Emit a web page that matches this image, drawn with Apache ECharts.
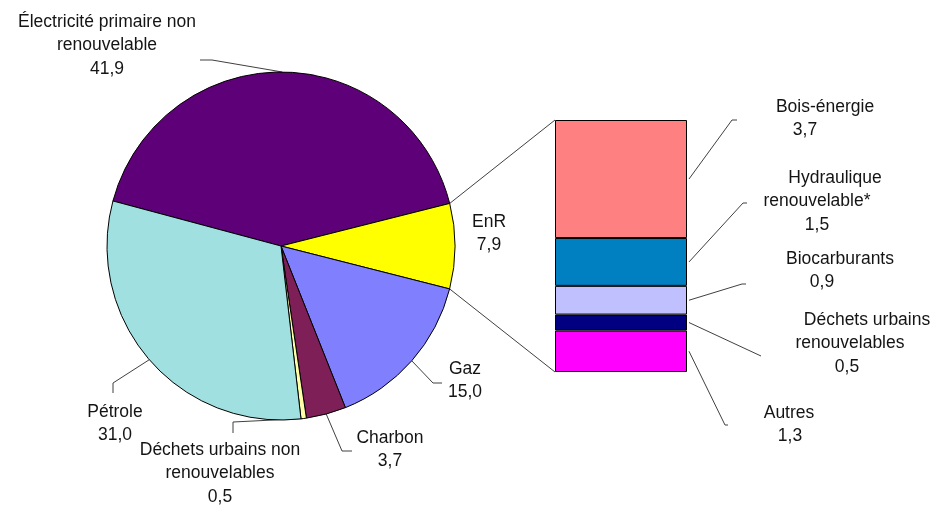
<!DOCTYPE html>
<html><head><meta charset="utf-8">
<script src="https://cdn.jsdelivr.net/npm/echarts@6/dist/echarts.min.js"></script>
<style>html,body{margin:0;padding:0;background:#fff}#c{width:937px;height:505px}</style>
</head><body><div id="c"></div>
<script>
// ---- data ----
const pieCategories = ['Électricité primaire non renouvelable', 'EnR', 'Gaz', 'Charbon', 'Déchets urbains non renouvelables', 'Pétrole'];
const pieValues = [41.9, 7.9, 15.0, 3.7, 0.5, 31.0];
const pieLabelText = [['Électricité primaire non', 'renouvelable'], ['EnR'], ['Gaz'], ['Charbon'], ['Déchets urbains non', 'renouvelables'], ['Pétrole']];
const enrCategories = ['Bois-énergie', 'Hydraulique renouvelable*', 'Biocarburants', 'Déchets urbains renouvelables', 'Autres'];
const enrValues = [3.7, 1.5, 0.9, 0.5, 1.3];
const enrLabelText = [['Bois-énergie'], ['Hydraulique', 'renouvelable*'], ['Biocarburants'], ['Déchets urbains', 'renouvelables'], ['Autres']];

// ---- styles ----
const pieColors = ['#5E0078', '#FFFF00', '#8080FF', '#7E1F58', '#FFFFA8', '#A0E0E0'];
const enrColors = ['#FF8080', '#0080C0', '#C0C0FF', '#000080', '#FF00FF'];
const FONT = "'Liberation Sans', Arial, sans-serif";
const TXT = '#141414';
const LINE = '#404040';
const FS = 17.5, LH = 23.5;

// label placement (block centre x, top y, per-line x offsets, leader line bends)
const pieLabelPos = [
  { x: 107, y: 10, line: [[212, 60], [200, 60]] },
  { x: 489, y: 210, line: null },
  { x: 465, y: 357, line: [[433, 383], [442, 383]] },
  { x: 390, y: 426, line: [[342, 451], [352, 451]] },
  { x: 220, y: 438, line: [[233, 422], [233, 433]] },
  { x: 115, y: 400, line: [[113, 383], [113, 393]] }
];
const enrLabelPos = [
  { x: 825, y: 95, off: [0, -20], line: [[732, 120], [737, 120]] },
  { x: 835, y: 166, off: [0, -18, -18], line: [[743, 203], [747, 203]] },
  { x: 840, y: 247, off: [0, -18], line: [[742, 284], [746, 284]] },
  { x: 867, y: 308, off: [0, -17, -20], line: [[761, 356]] },
  { x: 789, y: 401, off: [0, 1], line: [[725, 425], [728, 425]] }
];

const fmt = v => v.toFixed(1).replace('.', ',');
const rich = {};
function key(o) {
  const k = 'o' + (o < 0 ? 'm' : 'p') + Math.abs(o);
  if (!rich[k]) rich[k] = {
    fontSize: FS, lineHeight: LH, color: TXT, fontFamily: FONT,
    padding: [0, o < 0 ? -2 * o : 0, 0, o > 0 ? 2 * o : 0]
  };
  return k;
}
function richLabel(lines, offs) {
  return lines.map((t, i) => '{' + key(offs ? (offs[i] || 0) : 0) + '|' + t + '}').join('\n');
}
const pieLabelStr = pieLabelText.map((l, i) => richLabel(l.concat([fmt(pieValues[i])])));
const enrLabelStr = enrLabelText.map((l, i) => richLabel(l.concat([fmt(enrValues[i])]), enrLabelPos[i].off));

const chart = echarts.init(document.getElementById('c'));

const pieData = pieCategories.map((n, i) => {
  const d = { name: n, value: pieValues[i], itemStyle: { color: pieColors[i] } };
  if (!pieLabelPos[i].line) d.labelLine = { show: false };
  return d;
});

const barSeries = [];
for (let i = enrCategories.length - 1; i >= 0; i--) {
  const idx = i;
  barSeries.push({
    type: 'bar', name: enrCategories[idx], stack: 'enr', barWidth: '100%',
    data: [enrValues[idx]],
    itemStyle: { color: enrColors[idx], borderColor: '#000', borderWidth: 1 },
    label: {
      show: true, position: 'right', fontSize: FS, lineHeight: LH, color: TXT, fontFamily: FONT,
      formatter: () => enrLabelStr[idx],
      rich: rich
    },
    labelLayout: () => ({ x: enrLabelPos[idx].x, y: enrLabelPos[idx].y, align: 'center', verticalAlign: 'top' }),
    silent: true, animation: false
  });
}

chart.setOption({
  animation: false,
  backgroundColor: '#fff',
  textStyle: { fontFamily: FONT },
  grid: { left: 555, top: 120, width: 132, height: 252 },
  xAxis: { type: 'category', data: ['EnR'], show: false },
  yAxis: { type: 'value', min: 0, max: pieValues[1], show: false },
  series: [{
    type: 'pie', center: [281, 246], radius: 174, startAngle: 165, clockwise: true,
    avoidLabelOverlap: false, silent: true,
    data: pieData,
    itemStyle: { borderColor: '#000', borderWidth: 1 },
    label: {
      show: true, position: 'outside', fontSize: FS, lineHeight: LH, color: TXT, fontFamily: FONT,
      formatter: p => pieLabelStr[p.dataIndex],
      rich: rich
    },
    labelLine: { show: true, lineStyle: { color: LINE, width: 1 } },
    labelLayout: params => {
      const s = pieLabelPos[params.dataIndex];
      const r = { x: s.x, y: s.y, align: 'center', verticalAlign: 'top' };
      if (s.line && params.labelLinePoints) r.labelLinePoints = [params.labelLinePoints[0]].concat(s.line);
      return r;
    }
  }].concat(barSeries)
});

// connector lines (pie EnR slice -> bar) and bar leader lines, from library layouts
const model = chart.getModel();
const pieL = model.getSeriesByIndex(0).getData().getItemLayout(1);
const topBar = model.getSeriesByIndex(barSeries.length).getData().getItemLayout(0);
const botBar = model.getSeriesByIndex(1).getData().getItemLayout(0);
const barLeft = Math.min(topBar.x, topBar.x + topBar.width);
const barTop = Math.min(topBar.y, topBar.y + topBar.height);
const barBot = Math.max(botBar.y, botBar.y + botBar.height);
const p1 = [pieL.cx + pieL.r * Math.cos(pieL.startAngle), pieL.cy + pieL.r * Math.sin(pieL.startAngle)];
const p2 = [pieL.cx + pieL.r * Math.cos(pieL.endAngle), pieL.cy + pieL.r * Math.sin(pieL.endAngle)];
const graphics = [
  { type: 'polyline', shape: { points: [p1, [barLeft, barTop]] }, style: { stroke: LINE, lineWidth: 1, fill: null }, silent: true },
  { type: 'polyline', shape: { points: [p2, [barLeft, barBot]] }, style: { stroke: LINE, lineWidth: 1, fill: null }, silent: true }
];
for (let i = 0; i < enrCategories.length; i++) {
  const si = enrCategories.length - i; // series index
  const l = model.getSeriesByIndex(si).getData().getItemLayout(0);
  const right = Math.max(l.x, l.x + l.width) + 2;
  const mid = l.y + l.height / 2;
  graphics.push({ type: 'polyline', shape: { points: [[right, mid]].concat(enrLabelPos[i].line) }, style: { stroke: LINE, lineWidth: 1, fill: null }, silent: true });
}
chart.setOption({ graphic: graphics });
</script>
</body></html>
